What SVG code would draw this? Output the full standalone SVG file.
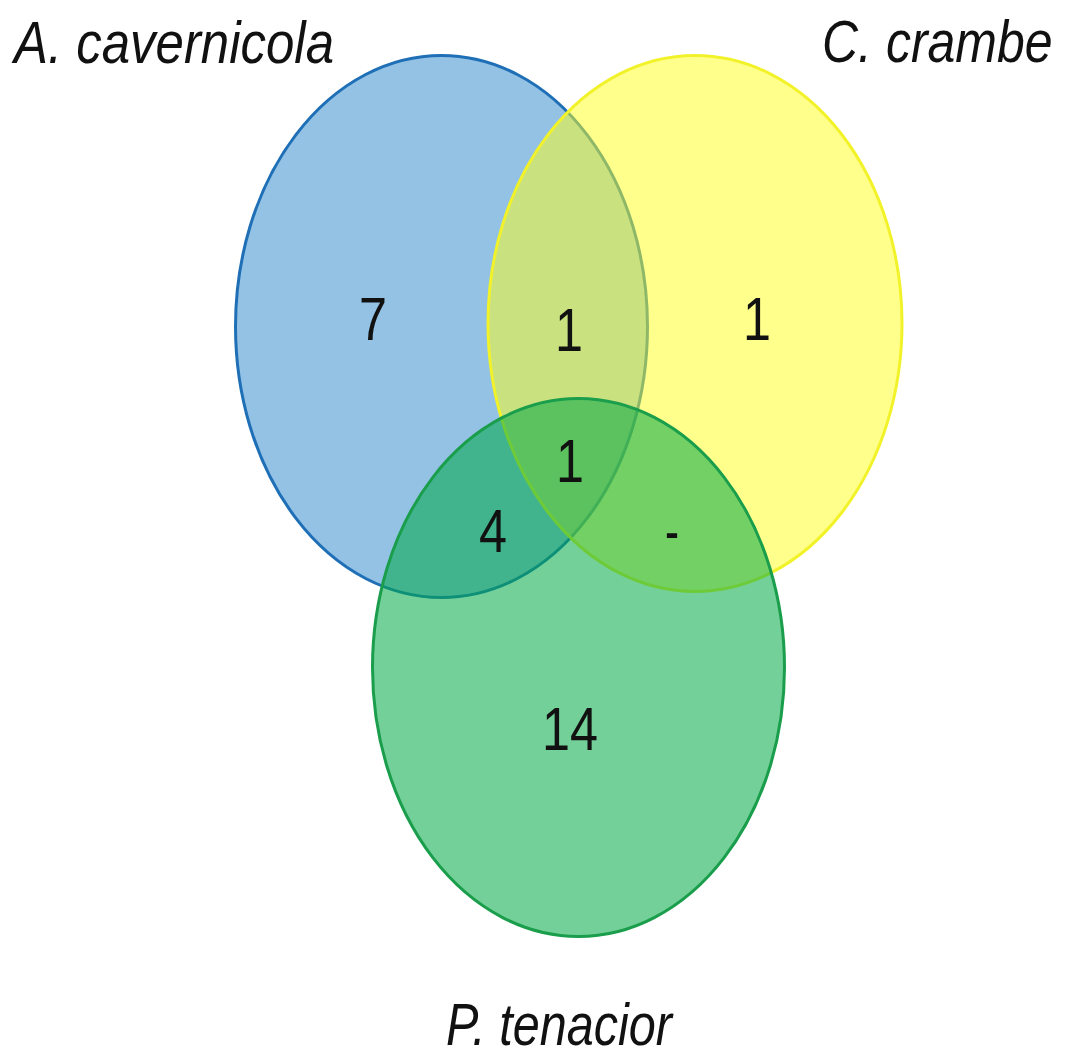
<svg xmlns="http://www.w3.org/2000/svg" width="1066" height="1060" viewBox="0 0 1066 1060">
<style>
.lbl{font-family:"Liberation Sans",Arial,sans-serif;font-style:italic;font-size:60px;fill:#111}
.num{font-family:"Liberation Sans",Arial,sans-serif;font-size:62px;fill:#111;text-anchor:middle}
</style>
<rect width="1066" height="1060" fill="#fff"/>
<g id="set-a">
<ellipse cx="441.5" cy="326.5" rx="206" ry="271" fill="#2785CB" fill-opacity="0.5" stroke="#1F6FB6" stroke-width="3"/>
</g>
<g id="set-c">
<ellipse cx="695" cy="323.5" rx="207" ry="268" fill="#FFFF19" fill-opacity="0.5" stroke="#F2F22A" stroke-width="3"/>
</g>
<g id="set-p">
<ellipse cx="578.5" cy="667.5" rx="206" ry="269" fill="#00AA46" fill-opacity="0.55" stroke="#1A9E4C" stroke-width="3"/>
</g>
<g id="labels">
<text class="lbl" x="14" y="63" textLength="320" lengthAdjust="spacingAndGlyphs">A. cavernicola</text>
<text class="lbl" transform="translate(822,62) scale(1,1.2)" x="0" y="0" style="font-size:50px">C. crambe</text>
<text class="lbl" x="446" y="1045" textLength="226" lengthAdjust="spacingAndGlyphs">P. tenacior</text>
</g>
<g id="counts">
<text class="num" x="373" y="340" textLength="28" lengthAdjust="spacingAndGlyphs">7</text>
<text class="num" x="569" y="351" textLength="28" lengthAdjust="spacingAndGlyphs">1</text>
<text class="num" x="757" y="340" textLength="28" lengthAdjust="spacingAndGlyphs">1</text>
<text class="num" x="570" y="482" textLength="28" lengthAdjust="spacingAndGlyphs">1</text>
<text class="num" x="493" y="552" textLength="28" lengthAdjust="spacingAndGlyphs">4</text>
<text class="num" x="672" y="552" textLength="14" lengthAdjust="spacingAndGlyphs">-</text>
<text class="num" x="570" y="750" textLength="56" lengthAdjust="spacingAndGlyphs">14</text>
</g>
</svg>
